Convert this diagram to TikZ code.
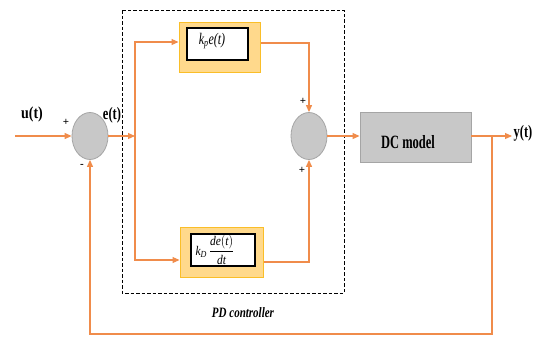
\documentclass[tikz,border=0pt]{standalone}
\usepackage{fontspec}
\setmainfont{Liberation Serif}
\usetikzlibrary{arrows.meta,shapes.geometric,calc}
\definecolor{lineor}{RGB}{240,140,75}
\definecolor{boxfill}{RGB}{255,217,140}
\definecolor{boxedge}{RGB}{250,190,40}
\definecolor{sumfill}{RGB}{200,200,200}
\definecolor{sumedge}{RGB}{165,165,165}
\newcommand{\tallt}[2][1.4]{\scalebox{1}[#1]{#2}}
\begin{document}
\begin{tikzpicture}[x=1pt,y=-1pt,
  sumnode/.style={ellipse,draw=sumedge,fill=sumfill,line width=0.8pt,minimum width=36pt,minimum height=47pt,inner sep=0pt},
  gainbox/.style={draw=boxedge,fill=boxfill,line width=1pt,inner sep=0pt},
  innerbox/.style={draw=black,fill=white,line width=1.1pt,inner sep=0pt},
  plantbox/.style={draw=sumedge,fill=sumfill,line width=0.9pt,inner sep=0pt},
  sig/.style={draw=lineor,line width=1.1pt},
  sigarr/.style={sig,-{Triangle[length=7pt,width=6pt]}},
  lbl/.style={inner sep=0pt,font=\bfseries},
  sgn/.style={inner sep=0pt,font=\bfseries\fontsize{11}{11}\selectfont}]
\useasboundingbox (0,0) rectangle (538,338);
\fill[white] (0,0) rectangle (538,338);

% dashed controller frame
\draw[line width=0.8pt,dash pattern=on 3.5pt off 2pt] (122,10) rectangle (344,293);
\node[inner sep=0pt,font=\bfseries\itshape\fontsize{11}{12}\selectfont] (pdl) at (243,313) {\tallt[1.3]{PD controller}};

% nodes
\node[sumnode] (s1) at (90,136) {};
\node[sumnode] (s2) at (309,136) {};
\node[gainbox,minimum width=81pt,minimum height=50pt] (kp) at (219.5,47) {};
\node[innerbox,minimum width=61pt,minimum height=32pt] (kpi) at (217.5,44) {};
\node[inner sep=0pt,font=\itshape\fontsize{12}{13}\selectfont] (kpt) at (212,41) {\tallt[1.35]{k\textsubscript{p}e(t)}};
\node[gainbox,minimum width=83pt,minimum height=50pt] (kd) at (221.5,252) {};
\node[innerbox,minimum width=64pt,minimum height=32pt] (kdi) at (223,250) {};
\node[inner sep=0pt,font=\itshape\fontsize{11.5}{12}\selectfont] (kdt) at (215,250) {\tallt[1.15]{k\textsubscript{D}\,$\displaystyle\frac{\textit{de}(\textit{t})}{\textit{dt}}$}};
\node[plantbox,minimum width=111pt,minimum height=50pt] (dc) at (415.5,137) {};
\node[lbl,font=\bfseries\fontsize{12.5}{13}\selectfont] (dct) at (408,142) {\tallt[1.5]{DC model}};

% labels
\node[lbl,font=\bfseries\fontsize{14}{15}\selectfont] (ut) at (32,114) {\tallt[1.2]{u(t)}};
\node[lbl,font=\bfseries\fontsize{12.5}{13}\selectfont] (et) at (112,115) {\tallt[1.4]{e(t)}};
\node[lbl,font=\bfseries\fontsize{12.5}{13}\selectfont] (yt) at (523,133) {\tallt[1.4]{y(t)}};
\node[sgn] (p1) at (66,122) {+};
\node[sgn] (m1) at (82,166) {-};
\node[sgn] (p2) at (303,101) {+};
\node[sgn] (p3) at (302,170) {+};

% coordinates
\coordinate (uin) at (15,136);
\coordinate (br) at (135,136);
\coordinate (ybr) at (492,136);
\coordinate (yend) at (512,136);
\coordinate (fb) at (492,334);

% connectors
\draw[sigarr] (uin) -- (s1.west);
\draw[sigarr] (s1.east) -- (br);
\draw[sigarr] (br) -- (br |- {$(kp.west)+(0,-5)$}) -- ($(kp.west)+(0,-5)$);
\draw[sigarr] (br) -- (br |- {$(kd.west)+(0,8)$}) -- ($(kd.west)+(0,8)$);
\draw[sigarr] ($(kp.east)+(0,-4)$) -| (s2.north);
\draw[sigarr] ($(kd.east)+(0,10)$) -| (s2.south);
\draw[sigarr] (s2.east) -- (dc.west |- s2.east);
\draw[sigarr] (dc.east |- ybr) -- (yend);
\draw[sigarr] (ybr) -- (fb) -| (s1.south);
\end{tikzpicture}
\end{document}
